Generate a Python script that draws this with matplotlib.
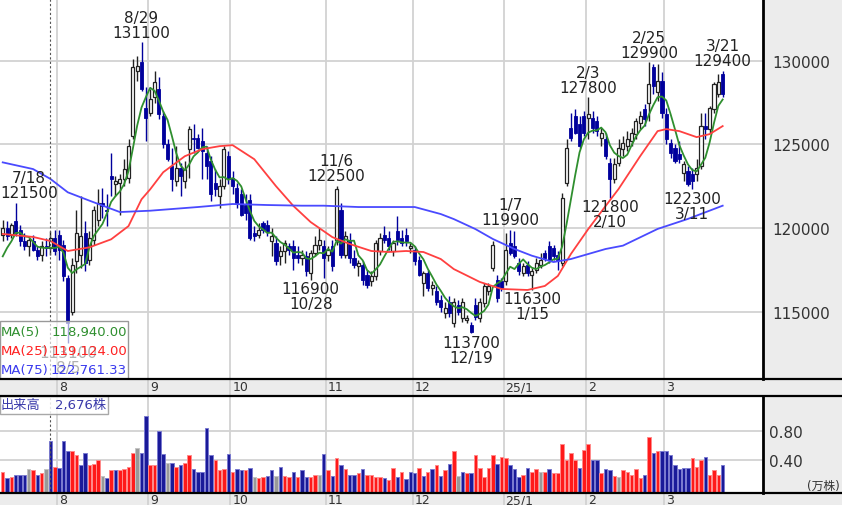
import numpy as np
import pandas as pd
import matplotlib
matplotlib.use('Agg')
import matplotlib.pyplot as plt
import matplotlib.transforms as mtransforms
from matplotlib.patches import Rectangle
from matplotlib.lines import Line2D

plt.rcParams['font.family'] = ['DejaVu Sans', 'Noto Sans CJK JP']

# trading days (TSE holidays removed)
holidays = ['2024-07-15', '2024-08-12', '2024-09-16', '2024-09-23', '2024-10-14',
            '2024-11-04', '2024-12-31', '2025-01-01', '2025-01-02', '2025-01-03',
            '2025-01-13', '2025-02-11', '2025-02-24', '2025-03-20']
days = pd.bdate_range('2024-07-12', '2025-03-21')
days = days[~days.isin(pd.to_datetime(holidays))]

opens = [119600, 120000, 119600, 120400, 119900, 119200, 118900, 119200, 118700, 118400,
         118900, 118800, 119400, 119600, 119000, 117000, 115000, 118000, 118400, 119700,
         118100, 119300, 120500, 121500, 121100, 123100, 122600, 122700, 122900, 123000,
         125500, 129400, 129900, 127200, 126900, 127800, 128300, 126700, 125000, 123700,
         122800, 123600, 122800, 124700, 125400, 125400, 125200, 124500, 124000, 122700,
         121900, 122500, 124300, 123000, 122400, 122000, 121400, 121700, 119700, 119600,
         120300, 120200, 119200, 119100, 118300, 118600, 118900, 118900, 118400, 118200,
         118300, 117300, 118500, 119000, 118900, 118400, 118900, 119300, 121100, 118400,
         119300, 118200, 117700, 117800, 117200, 116800, 117100, 118600, 119600, 119400,
         118600, 119800, 119400, 119600, 118800, 118700, 118100, 116700, 117300, 116400,
         116200, 115700, 114900, 115600, 114300, 115400, 114600, 114500, 114200, 115400,
         114600, 115500, 116200, 117600, 116900, 116800, 116800, 119100, 118900, 117900,
         117300, 117800, 117200, 117500, 117800, 118500, 118900, 118800, 118400, 117900,
         122700, 126000, 126700, 126200, 126700, 126600, 126600, 126400, 125400, 125300,
         123900, 122900, 123900, 124700, 124900, 125200, 125600, 126300, 127100, 127500,
         129600, 128100, 128800, 126800, 125100, 124800, 124400, 123300, 123400, 123200,
         123200, 123700, 126100, 125900, 127100, 128000, 129200]
highs = [120500, 120400, 120300, 121500, 120200, 119700, 119400, 119600, 118900, 119200,
         119400, 119800, 119900, 119900, 119300, 117200, 118200, 121100, 121900, 120400,
         119800, 121300, 122300, 122400, 122000, 124500, 123100, 123200, 124100, 125300,
         130100, 130300, 131100, 128400, 128300, 129400, 129000, 127000, 125300, 124800,
         124900, 123900, 124000, 126100, 126200, 125600, 126000, 124900, 124300, 123500,
         122900, 124900, 124600, 123400, 122700, 122300, 122000, 122000, 120100, 120300,
         120400, 120500, 120000, 119500, 118900, 119300, 119100, 119300, 118900, 118700,
         118600, 118700, 119500, 120000, 119300, 118900, 119300, 122500, 121500, 119800,
         119700, 118700, 118100, 118000, 117500, 117400, 119300, 119700, 120100, 119800,
         119300, 120700, 119900, 120000, 119100, 118900, 118300, 117400, 117500, 116800,
         116500, 116000, 115600, 115900, 115800, 115700, 115800, 114800, 114400, 115800,
         115800, 116700, 116700, 119200, 117200, 117000, 119700, 119900, 119800, 118200,
         117900, 118000, 117600, 118200, 118500, 118700, 119200, 119000, 118600, 122100,
         125300, 126900, 127100, 126700, 127000, 127800, 127000, 126700, 126000, 125700,
         124200, 124200, 125300, 125500, 125800, 126000, 126600, 127000, 127400, 129900,
         129800, 129800, 129300, 127200, 125300, 125000, 125200, 124000, 123700, 123600,
         124100, 126900, 126900, 127300, 128700, 129200, 129400]
lows = [119200, 119300, 119400, 119500, 118900, 118700, 118300, 118600, 118100, 118000,
        118300, 118400, 118400, 118100, 116800, 113100, 114800, 117300, 117600, 117400,
        117800, 119000, 120100, 120600, 120100, 121900, 121900, 120800, 122500, 122700,
        125300, 128800, 128200, 125200, 126700, 127500, 126500, 124800, 124000, 122200,
        122500, 121900, 122400, 123000, 124500, 124700, 122900, 122900, 121600, 121900,
        121200, 122300, 122600, 122000, 121200, 120700, 120500, 119300, 119200, 119400,
        119700, 119500, 118300, 117800, 117800, 117900, 118400, 117500, 117900, 117800,
        117100, 116900, 118300, 118700, 117000, 118000, 117400, 119000, 118200, 118200,
        117900, 117600, 117100, 116600, 116400, 116500, 116900, 118400, 119100, 118700,
        118300, 119000, 118900, 118900, 118500, 117800, 117100, 115900, 116200, 116000,
        115400, 115000, 114600, 114700, 114100, 114800, 114400, 114300, 113700, 114500,
        114400, 115300, 116000, 117400, 115600, 116200, 116600, 118400, 118200, 117200,
        117100, 117100, 116300, 117300, 117600, 118000, 117900, 118100, 117500, 117700,
        122500, 125200, 125600, 124800, 125500, 125300, 125700, 125500, 124900, 124100,
        121800, 122700, 123700, 124300, 124600, 124900, 125300, 125900, 126100, 126400,
        128000, 127600, 126600, 125000, 124200, 123900, 123900, 122800, 122500, 122300,
        122800, 123500, 125300, 125700, 126900, 127800, 127800]
closes = [120000, 119500, 120200, 119700, 119200, 118900, 119300, 118700, 118300, 118900,
          118800, 119400, 118600, 118700, 117100, 114300, 117800, 119700, 119500, 117900,
          119400, 121100, 121500, 121300, 121000, 122900, 122800, 122900, 123500, 124900,
          129600, 129700, 128300, 126600, 127700, 128700, 126800, 125000, 124100, 122900,
          123600, 123100, 123500, 125900, 125300, 124800, 124600, 123700, 122000, 122300,
          122500, 124700, 122900, 122500, 121500, 120800, 120900, 119400, 119500, 119900,
          119900, 119800, 119500, 118000, 118600, 119100, 118700, 118200, 118200, 118400,
          117400, 118500, 119000, 119300, 118200, 118700, 117700, 122300, 118400, 119500,
          118200, 117800, 117900, 116900, 116600, 117100, 119100, 119400, 119300, 118900,
          119100, 119300, 119100, 119200, 118900, 118000, 117200, 117300, 116400, 116600,
          115600, 115300, 115200, 114900, 115600, 115000, 115600, 114600, 113800, 114700,
          115600, 116500, 116500, 119000, 115800, 116400, 118700, 118500, 118300, 117400,
          117700, 117300, 117400, 117900, 118100, 118200, 118100, 118300, 118100, 121800,
          124800, 125400, 125700, 124900, 125700, 126800, 126000, 125800, 125700, 124300,
          122900, 123800, 124800, 125100, 125300, 125700, 126400, 126700, 126500, 128600,
          128500, 128800, 126900, 125300, 124500, 124000, 124100, 123800, 122600, 122800,
          123600, 126100, 125900, 127200, 128600, 128700, 128000]
pre_closes = [117000, 118200, 117200, 119100]

volumes = [.23, .14, .16, .19, .19, .19, .27, .26, .19, .21,
           .27, .67, .30, .28, .67, .52, .52, .46, .32, .50,
           .32, .34, .39, .17, .14, .25, .25, .25, .27, .30,
           .50, .56, .50, 1.01, .32, .32, .80, .48, .36, .36,
           .30, .32, .36, .46, .27, .23, .23, .84, .46, .39,
           .25, .27, .48, .23, .27, .25, .25, .28, .15, .14,
           .15, .17, .25, .17, .30, .17, .15, .23, .15, .25,
           .15, .15, .19, .19, .48, .25, .17, .42, .32, .27,
           .19, .19, .21, .27, .19, .19, .16, .15, .14, .12,
           .28, .15, .22, .13, .23, .21, .28, .17, .22, .27,
           .32, .17, .25, .34, .52, .17, .23, .21, .21, .46,
           .28, .15, .28, .46, .34, .44, .42, .32, .27, .15,
           .19, .28, .23, .27, .23, .23, .27, .21, .21, .62,
           .40, .50, .39, .28, .53, .62, .40, .40, .21, .27,
           .25, .17, .15, .25, .23, .19, .27, .14, .19, .72,
           .50, .52, .52, .52, .46, .32, .27, .28, .28, .42,
           .30, .40, .44, .19, .25, .19, .32]
vol_colors = ('rbrbbbgrbr' 'gbrbbbrrbb' 'rrrgbrbrrr' 'rgbbrrbbgb' 'rbrrbbbbbr'
              'rrbrbbrbgr' 'rbbgbrrbrb' 'brrgbrbrbr' 'bbrbrrrrbr' 'rbrbbbr'
              'brbrbrbrgb' 'rbrrrrrbrr' 'bbbrbrrgrb' 'rrrrrrbrrb' 'brbbrgrrrr'
              'rbrbrbbbbb' 'bbrrrbrrrb')

# moving averages (trading-day index, price)
ma25_idx = [0, 7, 11, 15, 20, 25, 29, 32, 34, 37, 42, 46, 50, 53, 58, 63, 67, 71, 76, 80,
            85, 89, 93, 97, 101, 104, 110, 115, 121, 125, 128, 131, 135, 139, 142, 147,
            151, 153, 156, 160, 163, 166]
ma25 = [119640, 119460, 119220, 118620, 118840, 119320, 120110, 121710, 122310, 123330,
        124290, 124710, 124890, 124950, 124110, 122500, 121320, 120350, 119450, 119040,
        118620, 118560, 118620, 118560, 118140, 117540, 116770, 116350, 116290, 116530,
        117130, 118440, 119930, 121310, 122330, 124300, 125790, 125910, 125790, 125430,
        125610, 126090]
ma75_idx = [0, 7, 11, 15, 20, 27, 34, 45, 53, 61, 69, 74, 82, 95, 101, 104, 109, 113,
            118, 122, 127, 131, 139, 143, 151, 158, 166]
ma75 = [123920, 123520, 122930, 122130, 121630, 120950, 121030, 121250, 121430, 121370,
        121330, 121330, 121250, 121250, 120830, 120530, 119930, 119340, 118740, 118340,
        117960, 118140, 118740, 118940, 119940, 120540, 121330]

labels_high = [3, 32, 77, 117, 135, 149, 166]
labels_low = [15, 71, 108, 122, 140, 159]
month_names = ['8', '9', '10', '11', '12', '25/1', '2', '3']
price_ticks = [115000, 120000, 125000, 130000]
cursor_day = 11

o = np.array(opens); h = np.array(highs); l = np.array(lows); c = np.array(closes)
v = np.array(volumes)
x = np.arange(len(c))
ma5 = pd.Series(pre_closes + closes).rolling(5).mean().iloc[4:].to_numpy()
month_start = [i for i in range(1, len(days)) if days[i].month != days[i - 1].month]

W, H = 842, 506
def box(x0, y0, x1, y1):
    return [x0 / W, 1 - y1 / H, (x1 - x0) / W, (y1 - y0) / H]

fig = plt.figure(figsize=(W / 100, H / 100), dpi=100, facecolor='#ececec')
ax = fig.add_axes(box(0, 0, 763, 380))
axv = fig.add_axes(box(0, 397, 763, 494), sharex=ax)

navy = '#00009c'
grid_c = '#d2d2d2'
up = c >= o
lo_b = np.minimum(o, c)
hb = np.maximum(np.abs(c - o), 70)
ax.vlines(x[up], l[up], h[up], color='#222222', lw=1, zorder=2)
ax.vlines(x[~up], l[~up], h[~up], color=navy, lw=1, zorder=2)
ax.bar(x[up], hb[up], bottom=lo_b[up], width=0.72, facecolor='white',
       edgecolor='#222222', lw=0.9, zorder=3)
ax.bar(x[~up], hb[~up], bottom=lo_b[~up], width=0.72, facecolor=navy,
       edgecolor=navy, lw=0.6, zorder=3)

ax.plot(x, ma5, color='#2f8f2f', lw=1.3, zorder=4)
ax.plot(ma25_idx, ma25, color='#ff4040', lw=1.3, zorder=4)
ax.plot(ma75_idx, ma75, color='#4a4aff', lw=1.3, zorder=4)

ax.set_xlim(-0.63, 175.3)
ax.set_ylim(110966, 133690)
grid_x = [m - 0.5 for m in month_start]
for a in (ax, axv):
    a.set_xticks(grid_x)
    a.tick_params(axis='x', length=0, labelbottom=False)
    a.grid(True, color=grid_c, lw=1.3)
    a.set_axisbelow(True)
    a.set_facecolor('white')
    for s in ('top', 'left', 'bottom'):
        a.spines[s].set_visible(False)
    a.spines['right'].set_color('black')
    a.spines['right'].set_linewidth(2)
    a.yaxis.tick_right()

ax.set_yticks(price_ticks)
ax.set_yticklabels([str(p) for p in price_ticks])
ax.tick_params(axis='y', length=0, pad=7, labelsize=11, labelcolor='#333333')

# volume
cmap = {'r': ('#ff1a1a', '#ff8a8a'), 'b': ('#1a1a99', '#7a7ad0'), 'g': ('#999999', '#c4c4c4')}
vfloor = -0.069
for i in range(len(v)):
    fc, ec = cmap[vol_colors[i]]
    axv.bar(x[i], v[i] - vfloor, bottom=vfloor, width=0.8, facecolor=fc,
            edgecolor=ec, lw=0.7, zorder=2)
axv.set_ylim(vfloor, 1.297)
axv.set_yticks([0.4, 0.8])
axv.set_yticklabels(['0.40', '0.80'])
axv.tick_params(axis='y', length=0, pad=4, labelsize=11, labelcolor='#333333')

# month labels in the grey strips, with grid continuing through them
blend = mtransforms.blended_transform_factory(ax.transData, ax.transAxes)
blendv = mtransforms.blended_transform_factory(axv.transData, axv.transAxes)
for gx, name in zip(grid_x, month_names):
    ax.plot([gx, gx], [-17 / 380, 0], transform=blend, color=grid_c, lw=1.3, clip_on=False)
    axv.plot([gx, gx], [-12 / 97, 0], transform=blendv, color=grid_c, lw=1.3, clip_on=False)
    ax.text(gx + 0.45, -8 / 380, name, transform=blend, ha='left', va='center',
            fontsize=9, color='#333333')
    axv.text(gx + 0.45, -7 / 97, name, transform=blendv, ha='left', va='center',
             fontsize=9, color='#333333')

for yy in (380, 397, 494):
    fig.add_artist(Line2D([0, 1], [1 - yy / H] * 2, transform=fig.transFigure,
                          color='black', lw=1.6))

# cursor
ax.axvline(cursor_day, color='#555555', lw=0.8, ls=(0, (2, 2)), zorder=5)
axv.axvline(cursor_day, color='#555555', lw=0.8, ls=(0, (2, 2)), zorder=5)

# high / low labels
def md(i):
    return f'{days[i].month}/{days[i].day}'

edge = mtransforms.blended_transform_factory(ax.transAxes, ax.transData)
for i in labels_high:
    if i < 6:   # label pushed inside the left edge
        ax.annotate(f'{md(i)}\n{h[i]}', xy=(0, h[i]), xycoords=edge, xytext=(0, 2),
                    textcoords='offset points', ha='left', va='bottom', ma='center',
                    fontsize=11, color='#222222', linespacing=1.0, zorder=5)
    else:
        ax.annotate(f'{md(i)}\n{h[i]}', xy=(x[i], h[i]), xytext=(0, 2),
                    textcoords='offset points', ha='center', va='bottom', ma='center',
                    fontsize=11, color='#222222', linespacing=1.0, zorder=5)
for i in labels_low:
    ax.annotate(f'{l[i]}\n{md(i)}', xy=(x[i], l[i]), xytext=(0, -1),
                textcoords='offset points', ha='center', va='top', ma='center',
                fontsize=11, color='#222222', linespacing=1.0, zorder=5)

# MA legend box
ax.add_patch(Rectangle((0, 0), 128 / 763, 58 / 380, transform=ax.transAxes,
                       facecolor='white', alpha=0.65, edgecolor='none', zorder=6))
ax.add_patch(Rectangle((0, 0), 128 / 763, 58 / 380, transform=ax.transAxes,
                       facecolor='none', edgecolor='#999999', lw=1, zorder=6))
legend_rows = [('MA(5)', '118,940.00', '#2f8f2f', 332.7),
               ('MA(25)', '119,124.00', '#ff2020', 351.7),
               ('MA(75)', '122,761.33', '#3a3aee', 370.5)]
for name, val, col, yy in legend_rows:
    ax.text(1 / 763, (380 - yy) / 380, name, transform=ax.transAxes, ha='left',
            va='center', fontsize=9.5, color=col, zorder=7)
    ax.text(127 / 763, (380 - yy) / 380, val, transform=ax.transAxes, ha='right',
            va='center', fontsize=9.5, color=col, zorder=7)

axv.add_patch(Rectangle((0, 79 / 97), 108 / 763, 18 / 97, transform=axv.transAxes,
                        facecolor='white', alpha=0.85, edgecolor='#999999', lw=1, zorder=6))
axv.text(1 / 763, 88 / 97, '出来高', transform=axv.transAxes, ha='left', va='center',
         fontsize=9.5, color='#3a3aaa', zorder=7)
axv.text(106 / 763, 88 / 97, '2,676株', transform=axv.transAxes, ha='right', va='center',
         fontsize=9.5, color='#3a3aaa', zorder=7)

fig.text(840 / W, 1 - 486 / H, '(万株)', ha='right', va='center', fontsize=8.5,
         color='#333333')

fig.savefig('out.png', dpi=100, facecolor=fig.get_facecolor())
